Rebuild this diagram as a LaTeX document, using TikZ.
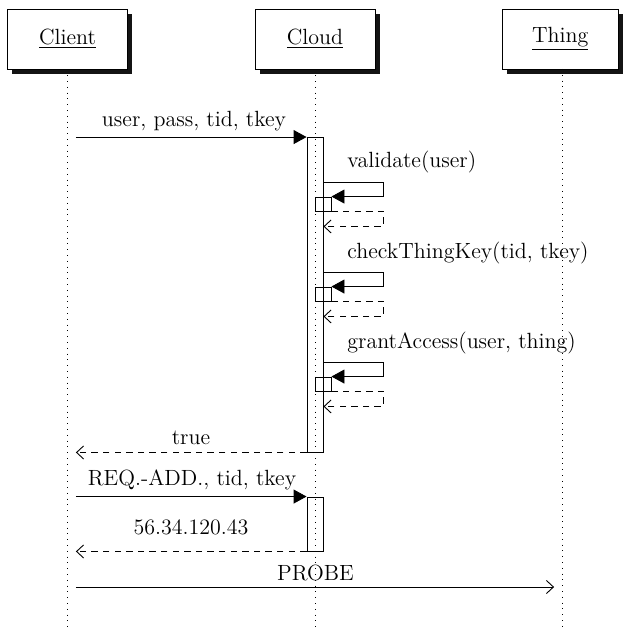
\documentclass[tikz,border=0pt]{standalone}
\usetikzlibrary{arrows.meta,shadows}
\begin{document}
\begin{tikzpicture}[x=0.5pt,y=-0.5pt,
  txt/.style={font=\fontsize{11}{13}\selectfont, inner sep=0pt},
  inst/.style={txt, draw, line width=0.45pt, fill=white, minimum height=30pt,
    drop shadow={shadow xshift=2.3pt, shadow yshift=-2.3pt, fill=black!92, opacity=1}},
  act/.style={draw, line width=0.45pt, minimum width=8pt, inner sep=0pt},
  thread/.style={minimum width=8pt, inner sep=0pt},
  life/.style={line width=0.4pt, dash pattern=on 0.4pt off 2.5pt},
  call/.style={line width=0.45pt, -{Triangle[length=6.5pt,width=7pt]}},
  ret/.style={line width=0.45pt, dash pattern=on 3.2pt off 2.6pt,
    -{Straight Barb[length=3.5pt,width=6.5pt,line width=0.45pt]}},
  msg/.style={line width=0.45pt, -{Straight Barb[length=3.5pt,width=6.5pt,line width=0.45pt]}}
]
\useasboundingbox (0,0) rectangle (623,630);

% instances
\node[inst, minimum width=60pt] (client) at (67.5,39) {\underline{Client}};
\node[inst, minimum width=60pt] (cloud) at (315,39) {\underline{Cloud}};
\node[inst, minimum width=57.75pt] (thing) at (560.25,39) {\underline{Thing}};

% lifeline ends
\coordinate (clientend) at (67.5,630);
\coordinate (cloudend) at (315,630);
\coordinate (thingend) at (562.5,630);
\coordinate (thingtop) at (562.5,69);

\draw[life] (client.south) -- (clientend);
\draw[life] (cloud.south) -- (cloudend);
\draw[life] (thingtop) -- (thingend);

% threads of the outer instances (not drawn)
\node[thread, minimum height=260pt] (cth) at (67.5,370) {};
\node[thread, minimum height=20pt] (tth) at (562.5,587) {};

% activations on Cloud
\node[act, minimum height=157.25pt] (a1) at (315,294.75) {};
\node[act, minimum height=27pt] (a2) at (315,524) {};
\node[act, minimum height=7pt] (n1) at (323,204) {};
\node[act, minimum height=7pt] (n2) at (323,294) {};
\node[act, minimum height=7pt] (n3) at (323,384) {};

% login request
\draw[call] (cth.east |- a1.north) -- (a1.north west);
\node[txt, anchor=base] (l1) at (194,127) {user, pass, tid, tkey};

% self calls
\draw[call] ([yshift=7pt]n1.north -| a1.east) -- ++(60,0) |- (n1.north east);
\draw[ret] (n1.south east) -- ++(52,0) |- ([yshift=-7.5pt]n1.south -| a1.east);
\node[txt, anchor=base west] (l2) at (347,168) {validate(user)};

\draw[call] ([yshift=7pt]n2.north -| a1.east) -- ++(60,0) |- (n2.north east);
\draw[ret] (n2.south east) -- ++(52,0) |- ([yshift=-7.5pt]n2.south -| a1.east);
\node[txt, anchor=base west] (l3) at (347,258) {checkThingKey(tid, tkey)};

\draw[call] ([yshift=7pt]n3.north -| a1.east) -- ++(60,0) |- (n3.north east);
\draw[ret] (n3.south east) -- ++(52,0) |- ([yshift=-7.5pt]n3.south -| a1.east);
\node[txt, anchor=base west] (l4) at (347,348) {grantAccess(user, thing)};

% reply
\draw[ret] (a1.south west) -- (cth.east |- a1.south);
\node[txt, anchor=base] (l5) at (191,444) {true};

% address request
\draw[call] (cth.east |- a2.north) -- (a2.north west);
\node[txt, anchor=base] (l6) at (192,485) {REQ.-ADD., tid, tkey};
\draw[ret] (a2.south west) -- (cth.east |- a2.south);
\node[txt, anchor=base] (l7) at (191,534) {56.34.120.43};

% probe
\draw[msg] (cth.east |- tth) -- (tth.west);
\node[txt, anchor=base] (l8) at (315.5,580) {PROBE};
\end{tikzpicture}
\end{document}
